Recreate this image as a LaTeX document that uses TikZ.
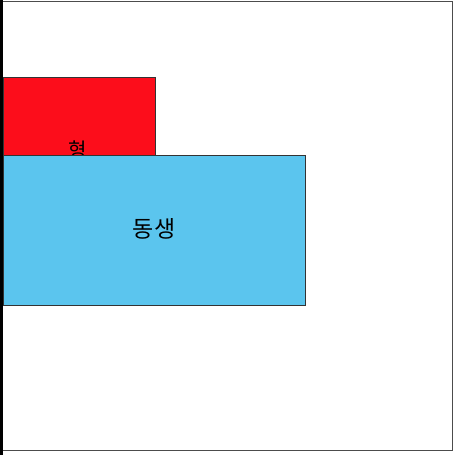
\documentclass[tikz,border=0pt]{standalone}
\usepackage{fontspec}
\newfontfamily\kr{Noto Sans CJK KR}
\definecolor{redbox}{HTML}{FC0D1B}
\definecolor{bluebox}{HTML}{5BC5EE}
\tikzset{
  px/.style={x=1pt,y=-1pt},
  box/.style={draw=black!80,line width=0.8pt},
  lbl/.style={font=\kr, text=black, inner sep=0pt}
}
\begin{document}
\begin{tikzpicture}[px]
\useasboundingbox (0,0) rectangle (454,455);
\draw[line width=0.8pt,draw=black!70] (1.5,1) rectangle (452.5,450.5);
\draw[line width=2.5pt] (1.5,0) -- (1.5,455);
\fill[redbox,draw=black!80,line width=0.8pt] (3,77) rectangle (155,155);
\node[lbl,font=\kr\fontsize{20}{24}\selectfont] (hyung) at (78,150) {형};
\fill[bluebox,draw=black!80,line width=0.8pt] (3,155) rectangle (305,305);
\node[lbl,font=\kr\fontsize{23}{27}\selectfont] (dongsaeng) at (154,229) {동생};
\end{tikzpicture}
\end{document}
